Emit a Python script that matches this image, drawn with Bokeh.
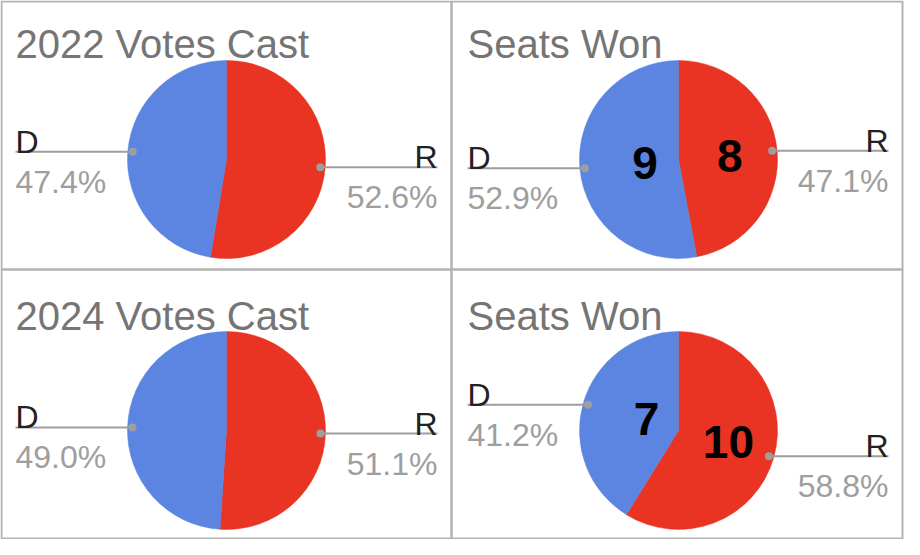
import math
from bokeh.plotting import figure
from bokeh.models import ColumnDataSource, Range1d
from bokeh.embed import file_html
from bokeh.resources import INLINE
from bokeh.core.properties import value

# ---- data ----
titles = ["2022 Votes Cast", "Seats Won", "2024 Votes Cast", "Seats Won"]
parties = ["R", "D"]
party_colors = ["#E93323", "#5B85E0"]
votes_2022 = [52.6, 47.4]   # percent of votes cast
seats_2022 = [8, 9]         # seats won
votes_2024 = [51.1, 49.0]
seats_2024 = [10, 7]

# ---- layout (screen pixels, y downward) ----
W, H = 904, 539
col_left = [1, 451]
col_right = [451, 902]
col_pie_dx = [225, 227]
col_text_dx = [14, 16]
row_top = [1, 269]
row_bottom = [269, 538]
row_title_dy = [42, 46]
row_pie_dy = [158, 161]
R = 99
FONT = "Liberation Sans"

panels = [
    (titles[0], votes_2022, False, 0, 0),
    (titles[1], seats_2022, True, 1, 0),
    (titles[2], votes_2024, False, 0, 1),
    (titles[3], seats_2024, True, 1, 1),
]

def Y(sy):
    return H - sy

wedge = dict(x=[], y=[], start=[], end=[], color=[])
seg = dict(x0=[], y0=[], x1=[], y1=[])
dots = dict(x=[], y=[])
names_l = dict(x=[], y=[], t=[])
names_r = dict(x=[], y=[], t=[])
pct_l = dict(x=[], y=[], t=[])
pct_r = dict(x=[], y=[], t=[])
nums = dict(x=[], y=[], t=[])
ttl = dict(x=[], y=[], t=[])
box = dict(left=[], right=[], top=[], bottom=[])

for title, vals, is_count, c, r in panels:
    left, right = col_left[c], col_right[c]
    top, bottom = row_top[r], row_bottom[r]
    box["left"].append(left); box["right"].append(right)
    box["top"].append(Y(top)); box["bottom"].append(Y(bottom))
    ttl["x"].append(left + col_text_dx[c]); ttl["y"].append(Y(top + row_title_dy[r])); ttl["t"].append(title)
    cx, cy = left + col_pie_dx[c], Y(top + row_pie_dy[r])
    total = float(sum(vals))
    cum = 0.0
    for i, v in enumerate(vals):
        a0 = math.pi / 2 - 2 * math.pi * cum / total
        a1 = math.pi / 2 - 2 * math.pi * (cum + v) / total
        cum += v
        wedge["x"].append(cx); wedge["y"].append(cy)
        wedge["start"].append(a1); wedge["end"].append(a0)
        wedge["color"].append(party_colors[i])
        mid = (a0 + a1) / 2
        dx, dy = cx + 0.95 * R * math.cos(mid), cy + 0.95 * R * math.sin(mid)
        dots["x"].append(dx); dots["y"].append(dy)
        if is_count:
            pct = f"{v / total * 100:.1f}%"
            nums["x"].append(cx + 0.43 * R * math.cos(mid) + 9)
            nums["y"].append(cy + 0.43 * R * math.sin(mid))
            nums["t"].append(str(v))
        else:
            pct = f"{v:.1f}%"
        if math.cos(mid) > 0:
            ex = right - 14
            names_r["x"].append(ex); names_r["y"].append(dy + 10); names_r["t"].append(parties[i])
            pct_r["x"].append(ex); pct_r["y"].append(dy - 30); pct_r["t"].append(pct)
        else:
            ex = left + col_text_dx[c]
            names_l["x"].append(ex); names_l["y"].append(dy + 10); names_l["t"].append(parties[i])
            pct_l["x"].append(ex); pct_l["y"].append(dy - 30); pct_l["t"].append(pct)
        seg["x0"].append(dx); seg["y0"].append(dy); seg["x1"].append(ex); seg["y1"].append(dy)

p = figure(width=W, height=H, x_range=Range1d(0, W), y_range=Range1d(0, H),
           x_axis_type=None, y_axis_type=None, toolbar_location=None,
           output_backend="svg", min_border=0)
p.outline_line_color = None
p.grid.visible = False
p.background_fill_color = "white"

p.quad(left="left", right="right", top="top", bottom="bottom", source=ColumnDataSource(box),
       fill_color=None, line_color="#b3b3b3", line_width=2)
p.wedge(x="x", y="y", radius=R, start_angle="start", end_angle="end", source=ColumnDataSource(wedge),
        fill_color="color", line_color="color", line_width=0.5)
p.segment(x0="x0", y0="y0", x1="x1", y1="y1", source=ColumnDataSource(seg),
          line_color="#9e9e9e", line_width=2)
p.scatter(x="x", y="y", source=ColumnDataSource(dots), size=8, fill_color="#9e9e9e", line_color=None)

def txt(d, size, color, align, baseline="alphabetic", style="normal"):
    p.text(x="x", y="y", text="t", source=ColumnDataSource(d), text_font=value(FONT),
           text_font_size=size, text_color=color, text_align=align,
           text_baseline=baseline, text_font_style=style)

txt(ttl, "40px", "#757575", "left")
txt(names_l, "32px", "#222222", "left")
txt(names_r, "32px", "#222222", "right")
txt(pct_l, "32px", "#9e9e9e", "left")
txt(pct_r, "32px", "#9e9e9e", "right")
txt(nums, "46px", "#000000", "center", baseline="middle", style="bold")

open("out.html", "w").write(file_html(p, INLINE))
